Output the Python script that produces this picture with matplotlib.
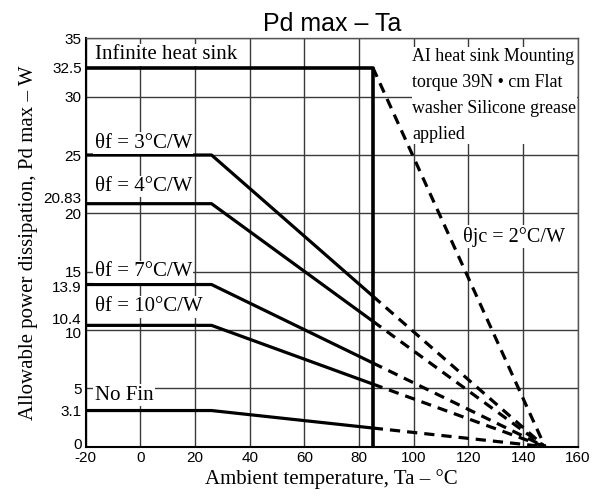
import matplotlib.pyplot as plt
import matplotlib.transforms as mtransforms

# Derating curves: flat value up to the knee, then down to Tj max
curve_names = ['θf = 3°C/W', 'θf = 4°C/W', 'θf = 7°C/W', 'θf = 10°C/W', 'No Fin']
curve_pd = [25, 20.83, 13.9, 10.4, 3.1]
label_y = [26.0, 22.3, 15.0, 12.0, 4.4]

ta_start = -20
ta_knee = 26
ta_case = 85
ta_end = 148

inf_pd = 32.5

x_ticks = [-20, 0, 20, 40, 60, 80, 100, 120, 140, 160]
y_ticks = [0, 3.1, 5, 10, 10.4, 13.9, 15, 20, 20.83, 25, 30, 32.5, 35]
y_tick_labels = ['0', '3.1', '5', '10', '10.4', '13.9', '15', '20', '20.83', '25', '30', '32.5', '35']

serif = 'Liberation Serif'
sans = 'Liberation Sans'

fig = plt.figure(figsize=(6, 4.98), dpi=100)
ax = fig.add_axes([0.143, 0.103, 0.820, 0.820])

ax.set_xlim(-20, 160)
ax.set_ylim(0, 35)

# grid at multiples only
for gx in range(-20, 161, 20):
    ax.axvline(gx, color='#3a3a3a', lw=1.0, zorder=1)
for gy in range(0, 36, 5):
    ax.axhline(gy, color='#3a3a3a', lw=1.0, zorder=1)

lw = 2.3
dash = (0, (3.2, 2.2))
for pd in curve_pd:
    pd_case = pd * (ta_end - ta_case) / (ta_end - ta_knee)
    ax.plot([ta_start, ta_knee, ta_case], [pd, pd, pd_case], color='black', lw=lw, zorder=3,
            solid_capstyle='butt')
    ax.plot([ta_case, ta_end], [pd_case, 0], color='black', lw=lw, linestyle=dash, zorder=3)

# infinite heat sink
ax.plot([ta_start, ta_case, ta_case], [inf_pd, inf_pd, 0], color='black', lw=lw + 0.3, zorder=3)
ax.plot([ta_case, ta_end], [inf_pd, 0], color='black', lw=lw, linestyle=dash, zorder=3)

box = dict(facecolor='white', edgecolor='none', pad=1.0)
ax.text(-16.8, 33.6, 'Infinite heat sink', family=serif, fontsize=15, va='center', ha='left',
        bbox=box, zorder=4)
for name, ly in zip(curve_names, label_y):
    ax.text(-16.8, ly, name, family=serif, fontsize=15, va='center', ha='left', bbox=box, zorder=4)
ax.text(118, 18.0, 'θjc = 2°C/W', family=serif, fontsize=14.5, va='center', ha='left',
        bbox=box, zorder=4)
ax.text(99.5, 34.2, 'AI heat sink Mounting\ntorque 39N • cm Flat\nwasher Silicone grease\napplied',
        family=serif, fontsize=12.9, va='top', ha='left', linespacing=1.7,
        bbox=dict(facecolor='white', edgecolor='none', pad=0.5), zorder=4)

ax.set_xticks(x_ticks)
ax.set_xticklabels([str(t) for t in x_ticks], family=sans, fontsize=11)
ax.set_yticks(y_ticks)
ax.set_yticklabels(y_tick_labels, family=sans, fontsize=11)
ax.tick_params(length=0, pad=3)

# nudge crowded tick labels apart
shifts = {'10.4': 7, '10': -2, '20.83': 6, '0': 3, '13.9': -2}
for lab in ax.get_yticklabels():
    dy = shifts.get(lab.get_text(), 0)
    if dy:
        lab.set_transform(lab.get_transform() +
                          mtransforms.ScaledTranslation(0, dy / 100, fig.dpi_scale_trans))

for s in ax.spines.values():
    s.set_color('#555555')
    s.set_linewidth(1.0)
ax.spines['bottom'].set_color('black')
ax.spines['bottom'].set_linewidth(1.5)
ax.spines['left'].set_color('black')
ax.spines['left'].set_linewidth(1.5)

ax.set_xlabel('Ambient temperature, Ta – °C', family=serif, fontsize=15, labelpad=3)
ax.set_ylabel('Allowable power dissipation, Pd max – W', family=serif, fontsize=15, labelpad=4)
ax.set_title('Pd max – Ta', family=sans, fontsize=18, pad=5)

fig.savefig('out.png', dpi=100)
